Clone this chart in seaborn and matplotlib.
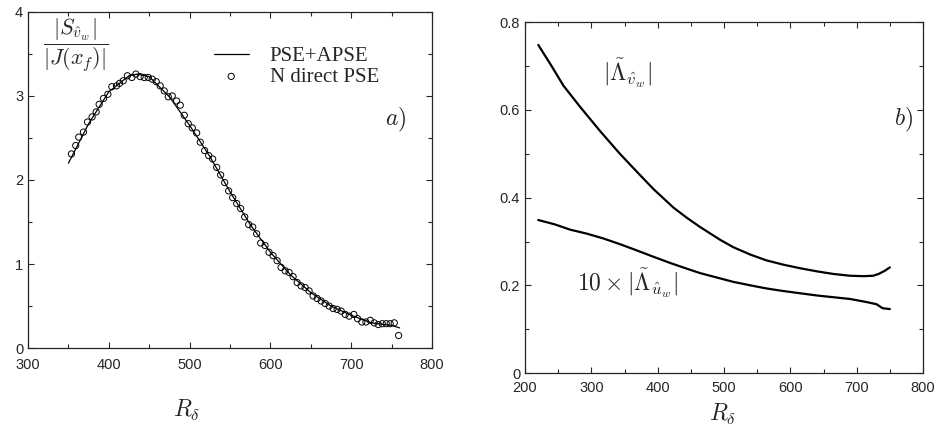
import numpy as np
import pandas as pd
import matplotlib
matplotlib.use("Agg")
import matplotlib.pyplot as plt
import seaborn as sns
from matplotlib.ticker import MultipleLocator, FuncFormatter

# --- 데이터 ---
# a) PSE+APSE 곡선
r_line = [350, 375, 400, 425, 435, 450, 475, 500, 525, 550, 575, 600,
          625, 650, 675, 700, 725, 750, 760]
s_line = [2.20, 2.67, 3.05, 3.24, 3.26, 3.23, 2.99, 2.65, 2.28, 1.86, 1.47, 1.14,
          0.87, 0.66, 0.50, 0.39, 0.30, 0.27, 0.24]

# a) N direct PSE 점
r_pts = [353.7, 359, 362.8, 368.6, 373.6, 379.3, 384.3, 388, 393.4, 398.8,
         403.7, 409.5, 413.2, 417.8, 423, 428.5, 433.5, 438.8, 443.8, 448.8,
         453.7, 458.7, 463.6, 468.6, 473.6, 478.5, 483.9, 488.4, 493.4, 498.3,
         503.3, 508.7, 513.2, 518.6, 523.6, 528.5, 533.5, 538.4, 543.4, 548.3,
         553.3, 558.3, 563.2, 568.2, 573.1, 578.1, 583, 588, 593.4, 598.3,
         603.3, 608.3, 613.2, 618.2, 623.1, 628.1, 633.1, 638, 643, 647.9,
         652.9, 657.9, 662.8, 667.8, 672.7, 677.7, 682.6, 687.6, 692.6, 697.5,
         703.3, 707.9, 713.2, 718.2, 723.6, 728.5, 733.5, 738.4, 743.4, 748.3,
         753.3, 758.7]
s_pts = [2.31, 2.41, 2.51, 2.57, 2.69, 2.75, 2.81, 2.90, 2.97, 3.02,
         3.11, 3.12, 3.15, 3.18, 3.24, 3.22, 3.26, 3.23, 3.22, 3.22,
         3.20, 3.17, 3.12, 3.06, 2.99, 3.00, 2.94, 2.89, 2.77, 2.67,
         2.62, 2.56, 2.45, 2.35, 2.29, 2.25, 2.15, 2.06, 1.97, 1.87,
         1.79, 1.72, 1.66, 1.56, 1.47, 1.44, 1.36, 1.25, 1.22, 1.14,
         1.10, 1.04, 0.96, 0.92, 0.90, 0.85, 0.78, 0.74, 0.72, 0.68,
         0.62, 0.59, 0.56, 0.53, 0.50, 0.47, 0.46, 0.44, 0.40, 0.38,
         0.40, 0.35, 0.31, 0.31, 0.33, 0.30, 0.28, 0.29, 0.29, 0.29,
         0.30, 0.15]

# b) |Lambda_v| 곡선
r_v = [220, 240, 258, 283, 313, 343, 373, 394, 424, 444, 464, 494, 514,
       540, 564, 590, 615, 640, 665, 690, 710, 725, 733, 742, 750]
lam_v = [0.748, 0.700, 0.655, 0.607, 0.552, 0.500, 0.452, 0.419, 0.377, 0.354,
         0.333, 0.304, 0.287, 0.270, 0.257, 0.247, 0.239, 0.232, 0.226, 0.222,
         0.221, 0.222, 0.226, 0.233, 0.241]

# b) 10 x |Lambda_u| 곡선
r_u = [220, 245, 268, 293, 318, 343, 368, 394, 419, 444, 464, 494, 514,
       540, 564, 590, 615, 640, 665, 690, 715, 730, 739, 750]
lam_u10 = [0.349, 0.339, 0.327, 0.318, 0.307, 0.294, 0.280, 0.265, 0.251, 0.238,
           0.228, 0.216, 0.208, 0.200, 0.193, 0.187, 0.182, 0.177, 0.173, 0.169,
           0.162, 0.157, 0.148, 0.146]

df_line = pd.DataFrame({"R": r_line, "S": s_line})
df_pts = pd.DataFrame({"R": r_pts, "S": s_pts})
df_v = pd.DataFrame({"R": r_v, "L": lam_v})
df_u = pd.DataFrame({"R": r_u, "L": lam_u10})

# --- 시각화 ---
sns.set_style("ticks")
plt.rcParams["font.family"] = ["Liberation Sans", "DejaVu Sans"]
plt.rcParams["mathtext.fontset"] = "cm"
plt.rcParams["xtick.direction"] = "in"
plt.rcParams["ytick.direction"] = "in"

fig = plt.figure(figsize=(9.35, 4.25), dpi=100)
ax1 = fig.add_axes([0.030, 0.181, 0.432, 0.791])
ax2 = fig.add_axes([0.5615, 0.122, 0.4257, 0.826])

# a)
sns.lineplot(data=df_line, x="R", y="S", ax=ax1, color="black", linewidth=0.9,
             label="PSE+APSE")
sns.scatterplot(data=df_pts, x="R", y="S", ax=ax1, marker="o", s=20,
                facecolor="none", edgecolor="black", linewidth=0.7,
                label="N direct PSE")
ax1.set_xlim(300, 800)
ax1.set_ylim(0, 4)
ax1.xaxis.set_major_locator(MultipleLocator(100))
ax1.xaxis.set_minor_locator(MultipleLocator(50))
ax1.yaxis.set_major_locator(MultipleLocator(1))
ax1.yaxis.set_minor_locator(MultipleLocator(0.5))
ax1.set_xlabel("")
ax1.set_ylabel("")
ax1.legend(loc="upper right", bbox_to_anchor=(0.905, 0.94), frameon=False,
           prop={"family": "Liberation Serif", "size": 15},
           handlelength=1.7, handletextpad=1.0, borderpad=0.2, labelspacing=0.05)
fig.text(76 / 935, 1 - 45 / 425, r"$\dfrac{|S_{\hat{v}_w}|}{|J(x_f)|}$",
         ha="center", va="center", fontsize=16)
ax1.text(0.91, 0.68, r"$a)$", transform=ax1.transAxes, ha="center", va="center",
         fontsize=17)
fig.text(187 / 935, 1 - 410 / 425, r"$R_\delta$", ha="center", va="center", fontsize=17)

# b)
sns.lineplot(data=df_v, x="R", y="L", ax=ax2, color="black", linewidth=1.6)
sns.lineplot(data=df_u, x="R", y="L", ax=ax2, color="black", linewidth=1.6)
ax2.set_xlim(200, 800)
ax2.set_ylim(0, 0.8)
ax2.xaxis.set_major_locator(MultipleLocator(100))
ax2.xaxis.set_minor_locator(MultipleLocator(50))
ax2.yaxis.set_major_locator(MultipleLocator(0.2))
ax2.yaxis.set_minor_locator(MultipleLocator(0.1))
ax2.yaxis.set_major_formatter(FuncFormatter(
    lambda v, p: "0" if v == 0 else f"{v:.1f}"))
ax2.set_xlabel("")
ax2.set_ylabel("")
ax2.text(355, 0.684, r"$|\tilde{\Lambda}_{\hat{v}_w}|$", ha="center", va="center",
         fontsize=17)
ax2.text(355, 0.205, r"$10\times|\tilde{\Lambda}_{\hat{u}_w}|$", ha="center",
         va="center", fontsize=17)
ax2.text(0.95, 0.72, r"$b)$", transform=ax2.transAxes, ha="center", va="center",
         fontsize=17)
fig.text(723 / 935, 1 - 414 / 425, r"$R_\delta$", ha="center", va="center", fontsize=17)

for ax in (ax1, ax2):
    ax.tick_params(which="both", top=True, right=True, labelsize=10.5, width=0.8)
    ax.tick_params(which="major", length=4)
    ax.tick_params(which="minor", length=3)
    for sp in ax.spines.values():
        sp.set_linewidth(0.9)
        sp.set_visible(True)
ax1.tick_params(axis="x", pad=7)
ax2.tick_params(axis="x", pad=6)

fig.savefig("out.png", dpi=100)
